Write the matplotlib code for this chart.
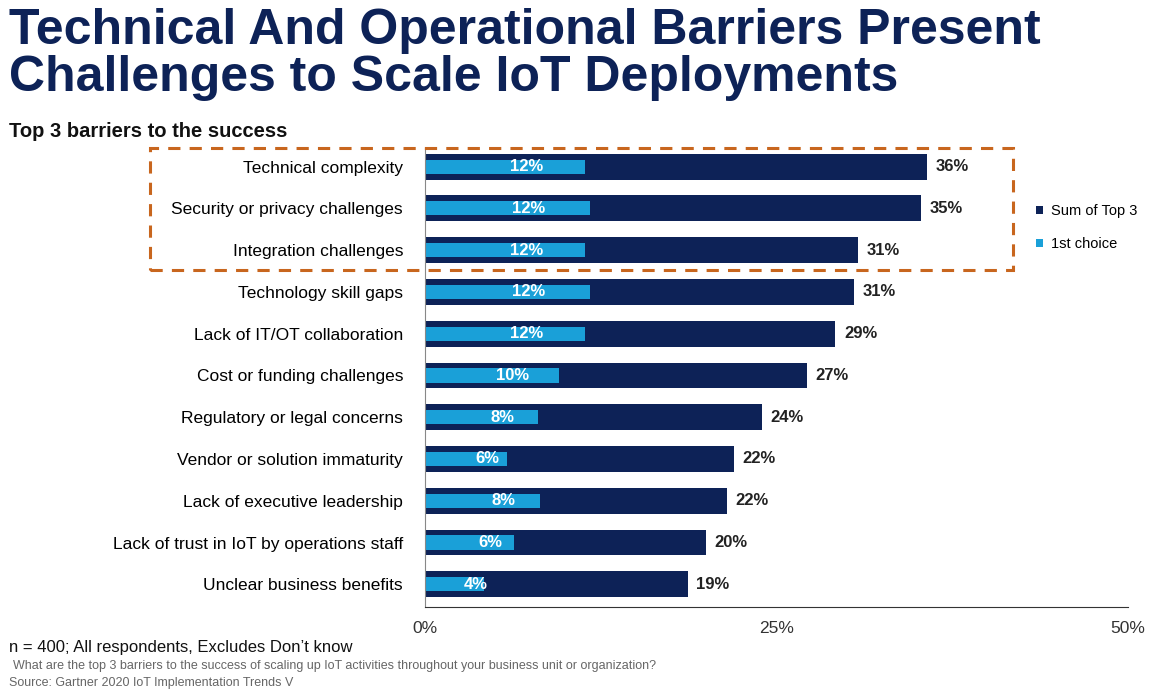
import matplotlib
matplotlib.use("Agg")
import matplotlib.pyplot as plt
from matplotlib.patches import Rectangle

categories = ["Technical complexity","Security or privacy challenges","Integration challenges",
              "Technology skill gaps","Lack of IT/OT collaboration","Cost or funding challenges",
              "Regulatory or legal concerns","Vendor or solution immaturity","Lack of executive leadership",
              "Lack of trust in IoT by operations staff","Unclear business benefits"]
sum_top3 = [35.7,35.3,30.8,30.5,29.2,27.2,24.0,22.0,21.5,20.0,18.7]
sum_labels = ["36%","35%","31%","31%","29%","27%","24%","22%","22%","20%","19%"]
first = [11.4,11.7,11.4,11.7,11.4,9.5,8.0,5.8,8.2,6.3,4.2]
first_labels = ["12%","12%","12%","12%","12%","10%","8%","6%","8%","6%","4%"]

plt.rcParams['font.family'] = ['Liberation Sans','DejaVu Sans']
navy = "#0d2257"; light = "#1aa0d8"
fig = plt.figure(figsize=(11.65,6.94), dpi=100)
ax = fig.add_axes([0.365,0.125,0.603,0.662])
y = list(range(len(categories)))
ax.barh(y, sum_top3, height=0.62, color=navy, label="Sum of Top 3")
ax.barh(y, first, height=0.34, color=light, label="1st choice")
for i in y:
    ax.text(sum_top3[i]+0.6, i, sum_labels[i], va='center', ha='left', fontsize=12, fontweight='bold', color='#222222')
    ax.text(first[i]/2+1.5, i, first_labels[i], va='center', ha='center', fontsize=12, fontweight='bold', color='white')
ax.set_ylim(len(categories)-0.45, -0.45)
ax.set_xlim(0,50)
ax.set_yticks(y); ax.set_yticklabels(categories, fontsize=12.5)
ax.set_xticks([0,25,50]); ax.set_xticklabels(["0%","25%","50%"], fontsize=12.5, color='#333333')
ax.tick_params(length=0, pad=16, axis='y')
ax.tick_params(length=0, pad=10, axis='x')
for s in ['top','right']: ax.spines[s].set_visible(False)
ax.spines['left'].set_color('#888888'); ax.spines['bottom'].set_color('#333333')
leg = fig.legend(loc='upper left', bbox_to_anchor=(0.878,0.725), frameon=False, fontsize=10.5,
                 handlelength=0.5, handleheight=0.5, labelspacing=1.3, handletextpad=0.5)
fig.patches.append(Rectangle((150/1165, 1-270/694), (1013-150)/1165, (270-148)/694,
                             transform=fig.transFigure, fill=False, ec='#c8661e', lw=2.2, ls=(0,(4,3))))
fig.text(0.008, 0.955, "Technical And Operational Barriers Present", fontsize=36, fontweight='heavy', color=navy, va='center')
fig.text(0.008, 0.887, "Challenges to Scale IoT Deployments", fontsize=36, fontweight='heavy', color=navy, va='center')
fig.text(0.008, 0.81, "Top 3 barriers to the success", fontsize=14.5, fontweight='bold', color='#111111', va='center')
fig.text(0.008, 0.067, "n = 400; All respondents, Excludes Don\u2019t know", fontsize=12, color='#111111', va='center')
fig.text(0.011, 0.04, "What are the top 3 barriers to the success of scaling up IoT activities throughout your business unit or organization?", fontsize=9, color='#666666', va='center')
fig.text(0.008, 0.016, "Source: Gartner 2020 IoT Implementation Trends V", fontsize=9, color='#666666', va='center')
fig.savefig("out.png", dpi=100)
